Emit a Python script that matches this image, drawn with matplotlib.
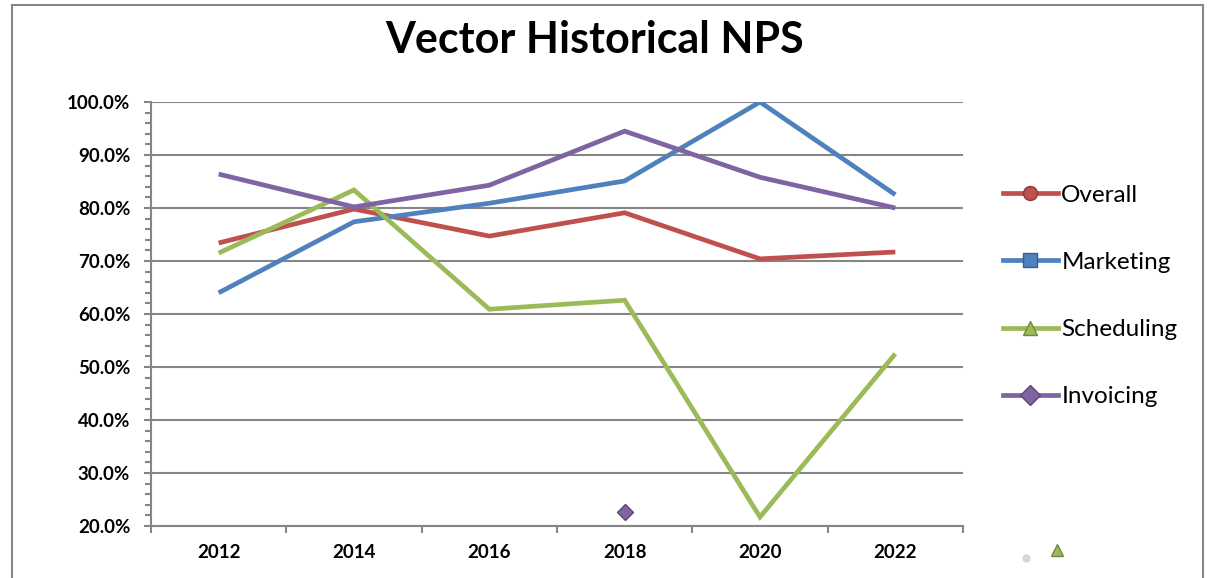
import matplotlib.pyplot as plt
from matplotlib.lines import Line2D
from matplotlib.patches import Rectangle
from matplotlib.ticker import FuncFormatter, MultipleLocator

plt.rcParams['font.family'] = ['Lato', 'DejaVu Sans']

years = ['2012', '2014', '2016', '2018', '2020', '2022']
overall = [73.4, 79.8, 74.7, 79.1, 70.4, 71.7]
marketing = [64.0, 77.4, 80.9, 85.1, 100.0, 82.5]
scheduling = [71.5, 83.4, 60.9, 62.6, 21.7, 52.5]
invoicing = [86.4, 80.2, 84.3, 94.5, 85.8, 80.0]

# stray invoicing point left over in the original sheet
stray_year = '2018'
stray_value = 22.6

series_names = ['Overall', 'Marketing', 'Scheduling', 'Invoicing']
series_values = [overall, marketing, scheduling, invoicing]
colors = ['#C0504D', '#4F81BD', '#9BBB59', '#8064A2']
edge_colors = ['#8C3836', '#385D8A', '#71893F', '#5C4776']
markers = ['o', 's', '^', 'D']

fig = plt.figure(figsize=(12.09, 5.78), dpi=100)
ax = fig.add_axes([151 / 1209, 1 - 526 / 578, (963 - 151) / 1209, (526 - 102) / 578])

x = list(range(len(years)))
for name, vals, c in zip(series_names, series_values, colors):
    ax.plot(x, vals, color=c, lw=3.4, solid_joinstyle='miter', solid_capstyle='butt', zorder=3)

ax.plot(years.index(stray_year), stray_value, marker='D', ms=8, color='#8064A2',
        mec='#5C4776', zorder=4, clip_on=False)

ax.set_xlim(-0.5, len(years) - 0.5)
ax.set_ylim(20, 100)

grid_c = '#868686'
ax.yaxis.set_major_locator(MultipleLocator(10))
ax.yaxis.set_minor_locator(MultipleLocator(2))
ax.yaxis.set_major_formatter(FuncFormatter(lambda v, p: f'{v:.1f}%'))
ax.grid(axis='y', color=grid_c, lw=1.5, zorder=1)

ax.set_xticks(x)
ax.set_xticklabels(years)
ax.set_xticks([i - 0.5 for i in range(len(years) + 1)], minor=True)

for s in ['top', 'right']:
    ax.spines[s].set_visible(False)
for s in ['left', 'bottom']:
    ax.spines[s].set_color(grid_c)
    ax.spines[s].set_linewidth(1.5)

ax.tick_params(axis='x', which='major', length=0, pad=13, labelsize=13.5)
ax.tick_params(axis='x', which='minor', length=5, width=1.5, color=grid_c, direction='out')
ax.tick_params(axis='y', which='major', length=5, width=1.5, color=grid_c, pad=10, labelsize=13.5)
ax.tick_params(axis='y', which='minor', length=4, width=1.5, color=grid_c)
for lab in ax.get_xticklabels() + ax.get_yticklabels():
    lab.set_fontweight('bold')

fig.text(595 / 1209, 1 - 40 / 578, 'Vector Historical NPS', ha='center', va='center',
         fontsize=31, fontweight='bold')

handles = [Line2D([], [], color=c, lw=3.4, marker=m, ms=10, mfc=c, mec=ec)
           for c, ec, m in zip(colors, edge_colors, markers)]
fig.legend(handles, series_names, loc='center left', bbox_to_anchor=(1003 / 1209, 1 - 296 / 578),
           frameon=False, fontsize=17.5, handlelength=2.25, handletextpad=0.15,
           labelspacing=1.9, borderpad=0, borderaxespad=0)

# leftover marker artefacts beside the legend
fig.add_artist(Line2D([1057 / 1209], [1 - 550 / 578], marker='^', ms=9, color='#9BBB59',
                      mec='#71893F', transform=fig.transFigure))
fig.add_artist(Line2D([1026 / 1209], [1 - 558 / 578], marker='o', ms=5, color='#D0D0D0',
                      mec='#D0D0D0', alpha=0.8, transform=fig.transFigure))

fig.add_artist(Rectangle((12 / 1209, -0.05), (1203 - 12) / 1209, 1.05 - 5 / 578,
                         transform=fig.transFigure, fill=False, ec=grid_c, lw=1.5))

fig.savefig('out.png', dpi=100)
